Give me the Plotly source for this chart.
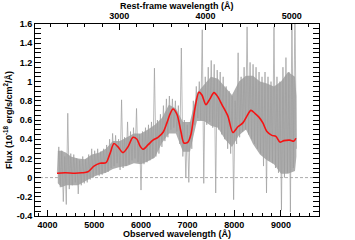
import plotly.graph_objects as go

# ---- data ----
redshift_factor = 1.846          # observed / rest-frame wavelength
obs_range = [3732, 9814]

# noisy observed spectrum: uniform grid start + step, fluxes read by eye
spec_wave_start = 4210
spec_wave_step = 32
spec_flux = [
    0.05, 0.32, -0.10, 0.28, -0.25, 0.22, -0.28, 0.67, -0.12, 0.25,
    -0.08, 0.24, -0.05, 0.20, -0.17, 0.18, -0.08, 0.22, -0.06, 0.19,
    -0.05, 0.24, -0.02, 0.30, 0.00, 0.28, 0.03, 0.30, 0.02, 0.27,
    0.03, 0.30, 0.05, 0.34, 0.06, 0.40, 0.10, 0.46, 0.12, 0.44,
    0.15, 0.40, 0.08, 0.81, 0.10, 0.42, 0.12, 0.58, 0.14, 0.48,
    0.18, 0.52, 0.20, 0.72, 0.16, 0.45, -0.13, 0.48, 0.14, 0.52,
    0.16, 0.55, 0.18, 0.58, 0.20, 1.14, 0.22, 0.60, 0.25, 0.66,
    0.32, 0.75, 0.38, 0.82, 0.42, 0.85, 0.50, 0.82, 0.52, 0.80,
    0.48, 0.75, 0.35, 1.35, 0.22, 0.60, 0.00, 0.55, -0.05, 0.58,
    0.30, 0.80, 0.55, 0.95, 0.62, 1.00, 0.60, 1.54, -0.06, 1.05,
    0.55, 1.15, 0.58, 1.22, 0.52, 1.18, -0.16, 1.12, 0.50, 1.10,
    0.45, 1.05, 0.40, 0.95, 0.30, 0.90, 0.25, 0.85, -0.23, 0.80,
    0.35, 1.30, 0.42, 1.05, 0.48, 1.15, 0.50, 1.57, 0.45, 1.20,
    0.40, 1.18, 0.35, 1.15, 0.30, 1.10, 0.25, 1.05, 0.12, 1.10,
    -0.16, 1.05, 0.18, 1.00, 0.15, 1.57, 0.10, 1.05, 0.05, 1.00,
    -0.34, 1.15, 0.00, 1.25, 0.05, 1.10, -0.36, 1.75, 0.10, 1.75,
    0.30,
]

# dense core of the noisy spectrum (envelope of the gray band)
band_wave = [4220, 4300, 4400, 4500, 4650, 4800, 4950, 5100, 5250, 5400,
             5550, 5700, 5850, 6000, 6150, 6300, 6450, 6600, 6750, 6900,
             7050, 7200, 7350, 7500, 7650, 7800, 7950, 8100, 8250, 8400,
             8550, 8700, 8850, 9000, 9150, 9300, 9330]
band_upper = [0.28, 0.28, 0.26, 0.22, 0.20, 0.19, 0.24, 0.26, 0.30, 0.38,
              0.38, 0.42, 0.46, 0.46, 0.50, 0.55, 0.62, 0.76, 0.72, 0.58,
              0.58, 0.88, 0.96, 1.05, 1.03, 0.95, 0.86, 1.00, 1.06, 1.06,
              1.00, 0.98, 0.95, 1.00, 1.10, 1.05, 0.85]
band_lower = [-0.06, -0.10, -0.08, -0.08, -0.08, -0.04, 0.00, 0.03, 0.05, 0.09,
              0.11, 0.12, 0.15, 0.14, 0.17, 0.21, 0.36, 0.46, 0.46, 0.27,
              0.27, 0.59, 0.59, 0.54, 0.52, 0.40, 0.32, 0.44, 0.50, 0.35,
              0.24, 0.18, 0.14, 0.04, 0.04, 0.07, 0.22]

# smoothed spectrum (red)
smooth_wave = [4203, 4375, 4589, 4738, 4867, 4995, 5124, 5252, 5338, 5423,
               5509, 5616, 5723, 5830, 5915, 5980, 6044, 6151, 6258, 6365,
               6472, 6557, 6622, 6686, 6772, 6857, 6922, 7007, 7071, 7157,
               7242, 7307, 7392, 7478, 7564, 7650, 7735, 7863, 7970, 8077,
               8184, 8270, 8355, 8441, 8527, 8612, 8698, 8805, 8891, 8976,
               9062, 9190, 9276, 9319]
smooth_flux = [0.045, 0.05, 0.045, 0.05, 0.06, 0.12, 0.15, 0.155, 0.25, 0.355,
               0.32, 0.26, 0.32, 0.42, 0.40, 0.33, 0.295, 0.34, 0.39, 0.42,
               0.47, 0.57, 0.66, 0.715, 0.66, 0.48, 0.36, 0.37, 0.45, 0.72,
               0.89, 0.86, 0.76, 0.82, 0.885, 0.84, 0.76, 0.64, 0.47, 0.53,
               0.57, 0.64, 0.70, 0.67, 0.63, 0.57, 0.48, 0.44, 0.43, 0.37,
               0.385, 0.39, 0.38, 0.41]

y_tickvals = [-0.4, -0.2, 0, 0.2, 0.4, 0.6, 0.8, 1.0, 1.2, 1.4, 1.6]
y_ticktext = ['-0.4', '-0.2', '0', '0.2', '0.4', '0.6', '0.8', '1', '1.2', '1.4', '1.6']
x_tickvals = [4000, 5000, 6000, 7000, 8000, 9000]
rest_tickvals = [3000, 4000, 5000]

# ---- figure ----
spec_wave = [spec_wave_start + spec_wave_step * i for i in range(len(spec_flux))]
rest_range = [obs_range[0] / redshift_factor, obs_range[1] / redshift_factor]

font_family = "Liberation Sans, Arial, sans-serif"
fig = go.Figure()
fig.add_trace(go.Scatter(x=band_wave, y=band_lower, mode='lines',
                         line=dict(color='rgba(0,0,0,0)', width=0),
                         showlegend=False, hoverinfo='skip'))
fig.add_trace(go.Scatter(x=band_wave, y=band_upper, mode='lines', fill='tonexty',
                         fillcolor='rgb(174,174,174)',
                         line=dict(color='rgba(0,0,0,0)', width=0),
                         showlegend=False, hoverinfo='skip'))
fig.add_trace(go.Scatter(x=spec_wave, y=spec_flux, mode='lines',
                         line=dict(color='rgb(158,158,158)', width=0.7),
                         showlegend=False, hoverinfo='skip'))
fig.add_trace(go.Scatter(x=smooth_wave, y=smooth_flux, mode='lines',
                         line=dict(color='rgb(245,20,20)', width=1.6, shape='spline', smoothing=0.8),
                         showlegend=False))
# invisible trace to anchor the top rest-frame axis
fig.add_trace(go.Scatter(x=rest_range, y=[-5, -5], xaxis='x2', mode='markers',
                         marker=dict(opacity=0), showlegend=False, hoverinfo='skip'))

fig.add_shape(type='line', xref='paper', yref='y', x0=0, x1=1, y0=0, y1=0,
              line=dict(color='rgb(150,150,150)', width=0.8, dash='3px,2px'), layer='below')

tickfont = dict(family=font_family, size=9, color='black', weight='bold')
titlefont = dict(family=font_family, size=9, color='black', weight='bold')

fig.add_annotation(text='Rest-frame wavelength (Å)', xref='paper', yref='paper',
                   x=0.5, y=1, yshift=18, xanchor='center', yanchor='middle',
                   showarrow=False, font=titlefont)
fig.add_annotation(text='Observed wavelength (Å)', xref='paper', yref='paper',
                   x=0.5, y=0, yshift=-17.5, xanchor='center', yanchor='middle',
                   showarrow=False, font=titlefont)

fig.update_layout(
    width=355, height=240,
    margin=dict(l=35, r=36, t=24, b=24),
    paper_bgcolor='white', plot_bgcolor='white',
    xaxis=dict(range=obs_range, tickvals=x_tickvals, ticks='inside', ticklen=6,
               tickwidth=1, tickcolor='black', showline=True, linecolor='black',
               linewidth=1, showgrid=False, zeroline=False, tickfont=tickfont,
               automargin=False, ticklabelstandoff=0,
               minor=dict(dtick=200, ticks='inside', ticklen=3, tickcolor='black', showgrid=False)),
    xaxis2=dict(range=rest_range, overlaying='x', side='top', tickvals=rest_tickvals,
                ticks='inside', ticklen=6, tickwidth=1, tickcolor='black',
                showline=True, linecolor='black', linewidth=1, showgrid=False,
                zeroline=False, tickfont=tickfont, automargin=False, ticklabelstandoff=0,
                minor=dict(dtick=200, ticks='inside', ticklen=3, tickcolor='black', showgrid=False)),
    yaxis=dict(range=[-0.4, 1.6], tickvals=y_tickvals, ticktext=y_ticktext,
               ticks='inside', ticklen=6, tickwidth=1, tickcolor='black',
               showline=True, linecolor='black', linewidth=1, mirror='allticks',
               showgrid=False, zeroline=False, tickfont=tickfont, automargin=False,
               title=dict(text='Flux (10<sup>-18</sup> erg/s/cm<sup>2</sup>/Å)', font=titlefont, standoff=2),
               minor=dict(dtick=0.05, ticks='inside', ticklen=3, tickcolor='black', showgrid=False)),
)

# remove the default page margin so the 355x240 figure fills the window exactly
fig.write_html("out.html", config={'displayModeBar': False},
               post_script="document.body.style.margin='0';")
